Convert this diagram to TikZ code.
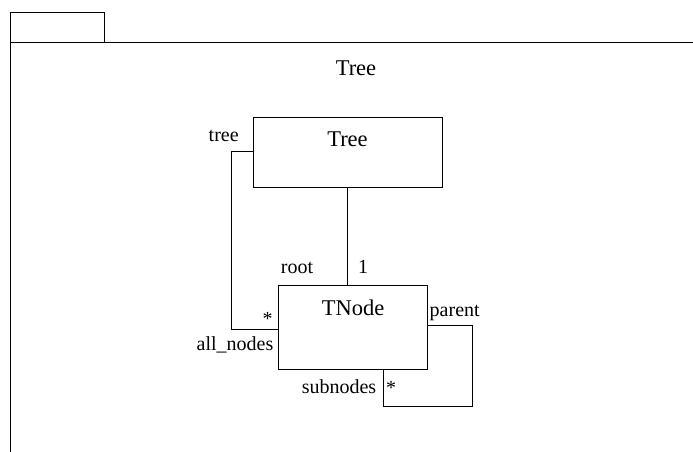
\documentclass[tikz,border=0pt]{standalone}
\usepackage{fontspec}
\setmainfont{Liberation Serif}
\newfontfamily\umlfont{Liberation Serif}
\begin{document}
\begin{tikzpicture}[x=1pt,y=-1pt,
  line width=1pt,
  classbox/.style={draw, line width=1pt, inner sep=0pt, outer sep=0pt},
  bigtext/.style={font=\umlfont\fontsize{22.5}{27}\selectfont, inner sep=0pt, anchor=base},
  smalltext/.style={font=\umlfont\fontsize{20}{24}\selectfont, inner sep=0pt, anchor=base},
  tabbox/.style={draw, line width=1pt, inner sep=0pt, outer sep=0pt, anchor=north west}]
\useasboundingbox (0,0) rectangle (693,452);
% package
\node[tabbox, minimum width=94pt, minimum height=30pt] (tab) at (10,13) {};
\coordinate (pr) at (693,43);
\coordinate (pb) at (10,452);
\draw (pr) -- (tab.south west) -- (pb);
\node[bigtext] (pkglabel) at (356,75) {Tree};
% classes
\node[classbox, minimum width=189pt, minimum height=70pt] (tree) at (347.5,152) {};
\node[bigtext] (treetitle) at (347.5,146.7) {Tree};
\node[classbox, minimum width=149pt, minimum height=84pt] (tnode) at (352.5,327) {};
\node[bigtext] (tnodetitle) at (353,315.7) {TNode};
% root association
\draw (tree.south) -- (tree.south |- tnode.north);
\node[smalltext] (lroot) at (297,273.3) {root};
\node[smalltext] (lone) at (363,273.3) {1};
% tree / all_nodes
\coordinate (b1) at (231.7,151.7);
\coordinate (b2) at (231.7,329);
\draw (b1 -| tree.west) -- (b1) -- (b2) -- (b2 -| tnode.west);
\node[smalltext] (ltree) at (223.7,141.7) {tree};
\node[smalltext] (lstar1) at (267.5,325) {*};
\node[smalltext] (lall) at (235,350) {all\_nodes};
% parent / subnodes
\coordinate (c1) at (472.3,325);
\coordinate (c2) at (383.3,406.7);
\draw (c1 -| tnode.east) -- (c1) |- (c2) -- (c2 |- tnode.south);
\node[smalltext] (lparent) at (454.7,316) {parent};
\node[smalltext] (lsub) at (339,393.3) {subnodes};
\node[smalltext] (lstar2) at (391,394) {*};
\end{tikzpicture}
\end{document}
